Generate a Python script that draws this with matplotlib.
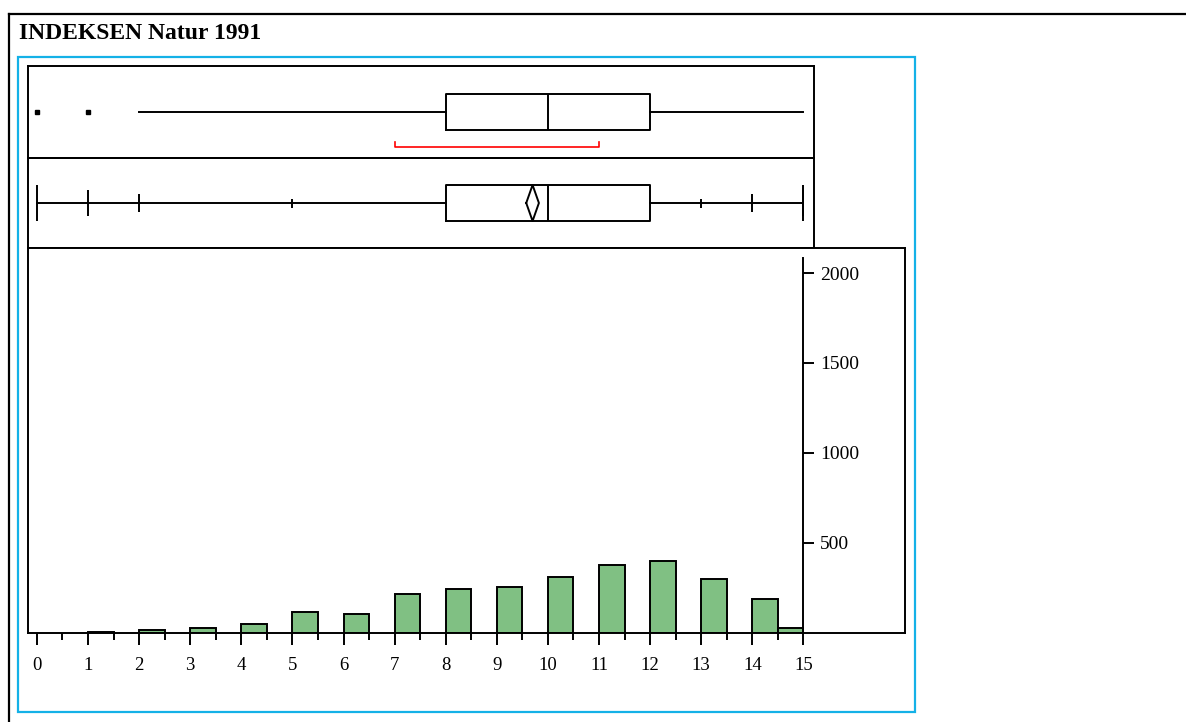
import matplotlib
matplotlib.use('Agg')
import matplotlib.pyplot as plt
from matplotlib.lines import Line2D
from matplotlib.patches import Rectangle

plt.rcParams['font.family'] = ['Liberation Serif', 'DejaVu Serif']

# --- data ---
title = 'INDEKSEN Natur 1991'

# histogram: bins of width 0.5, left edges and counts
bin_starts = [1, 2, 3, 4, 5, 6, 7, 8, 9, 10, 11, 12, 13, 14, 14.5]
bin_counts = [3, 14, 25, 47, 112, 101, 214, 242, 255, 311, 378, 398, 300, 188, 27]
bin_width = 0.5

# outlier box plot
q1, median, q3 = 8, 10, 12
whisker_low, whisker_high = 2, 15
outliers = [0, 1]
shortest_half = (7, 11)

# quantile box plot
quantile_levels = [0, 0.5, 2.5, 10, 90, 97.5, 99.5, 100]
quantile_values = [0, 1, 2, 5, 13, 14, 15, 15]
mean_value = 9.7

x_ticks = list(range(0, 16))
y_ticks = [500, 1000, 1500, 2000]

# --- layout (pixels of a 1186x722 canvas) ---
W, H = 1186, 722
X0_PX, PX_PER_UNIT = 36.9, 51.1        # pixel of value 0, pixels per unit
Y0_PX, PX_PER_COUNT = 632.5, 0.17975   # baseline pixel, pixels per count
LW = 1.4
GREEN = '#80c083'
BLUE = '#14b1e7'


def fig_rect(x0, y0, x1, y1):
    return [x0 / W, 1 - y1 / H, (x1 - x0) / W, (y1 - y0) / H]


def xval(px):
    return (px - X0_PX) / PX_PER_UNIT


fig = plt.figure(figsize=(W / 100, H / 100), dpi=100)

# outer frames
fig.add_artist(Line2D([9 / W, 9 / W], [0, 1 - 14 / H], color='k', lw=1.6))
fig.add_artist(Line2D([9 / W, 1], [1 - 14 / H, 1 - 14 / H], color='k', lw=1.6))
fig.add_artist(Rectangle((18 / W, 1 - 712 / H), (915 - 18) / W, (712 - 57) / H,
                         transform=fig.transFigure, fill=False, ec=BLUE, lw=1.6))
fig.text(19 / W, 1 - 39 / H, title, fontsize=17, fontweight='bold', ha='left', va='baseline')

line = dict(color='k', lw=LW)

# --- outlier box plot ---
ax1 = fig.add_axes(fig_rect(28, 66, 814, 158))
stats1 = [dict(med=median, q1=q1, q3=q3, whislo=whisker_low, whishi=whisker_high, fliers=outliers)]
ax1.bxp(stats1, positions=[0.5], widths=0.4, orientation='horizontal', showcaps=False,
        boxprops=line, whiskerprops=line, medianprops=line,
        flierprops=dict(marker='s', markersize=3, mfc='k', mec='k'))
lo, hi = shortest_half
ax1.plot([lo, lo, hi, hi], [0.175, 0.12, 0.12, 0.175], color='red', lw=1.2)
ax1.set_xlim(xval(28), xval(814))
ax1.set_ylim(0, 1)

# --- quantile box plot ---
ax2 = fig.add_axes(fig_rect(28, 158, 814, 248))
stats2 = [dict(med=median, q1=q1, q3=q3, whislo=quantile_values[0], whishi=quantile_values[-1], fliers=[])]
ax2.bxp(stats2, positions=[0.5], widths=0.4, orientation='horizontal', showcaps=False,
        showfliers=False, boxprops=line, whiskerprops=line, medianprops=line)
mark_half = {0: 0.205, 100: 0.205, 0.5: 0.145, 99.5: 0.145, 2.5: 0.105, 97.5: 0.105, 10: 0.05, 90: 0.05}
for lvl, val in zip(quantile_levels, quantile_values):
    h = mark_half[lvl]
    ax2.vlines(val, 0.5 - h, 0.5 + h, color='k', lw=LW)
dw = 0.124
ax2.plot([mean_value - dw, mean_value, mean_value + dw, mean_value, mean_value - dw],
         [0.5, 0.7, 0.5, 0.3, 0.5], color='k', lw=LW)
ax2.set_xlim(xval(28), xval(814))
ax2.set_ylim(0, 1)

for ax in (ax1, ax2):
    ax.set_xticks([])
    ax.set_yticks([])
    for sp in ax.spines.values():
        sp.set_linewidth(LW)
    ax.patch.set_alpha(0)

# --- histogram ---
ax3 = fig.add_axes(fig_rect(28, 248, 905, Y0_PX))
ax3.bar(bin_starts, bin_counts, width=bin_width, align='edge', color=GREEN,
        edgecolor='k', linewidth=LW, zorder=2)
ax3.set_xlim(xval(28), xval(905))
ax3.set_ylim(0, (Y0_PX - 248) / PX_PER_COUNT)

ax3.spines['right'].set_position(('data', 15))
ax3.spines['right'].set_bounds(0, (Y0_PX - 258) / PX_PER_COUNT)
for sp in ax3.spines.values():
    sp.set_linewidth(LW)
ax3.plot([1, 1], [0, 1], transform=ax3.transAxes, color='k', lw=LW, clip_on=False)

ax3.yaxis.tick_right()
ax3.set_yticks(y_ticks)
ax3.tick_params(axis='y', direction='out', length=8, width=LW, pad=4, labelsize=14)

ax3.set_xticks(x_ticks)
ax3.set_xticks([t + 0.5 for t in x_ticks[:-1]], minor=True)
ax3.tick_params(axis='x', which='major', direction='out', length=8.5, width=LW, pad=9, labelsize=13.5)
ax3.tick_params(axis='x', which='minor', direction='out', length=5, width=LW)

fig.savefig('out.png', dpi=100)
